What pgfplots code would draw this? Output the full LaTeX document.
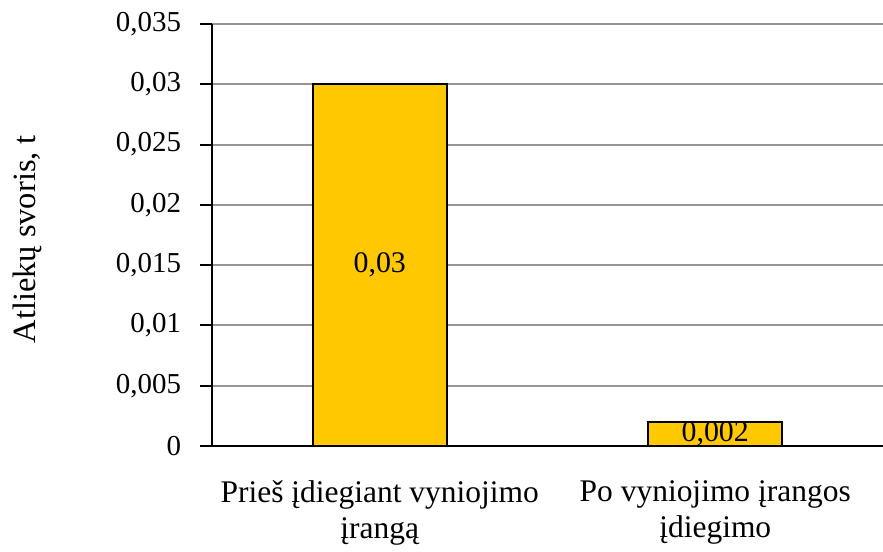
\documentclass[border=0pt]{standalone}
\usepackage{fontspec}
\setmainfont{Liberation Serif}
\usepackage{pgfplots}
\pgfplotsset{compat=1.18}
\usepackage{pgfplotstable}
\definecolor{barc}{RGB}{255,200,0}
\definecolor{gridc}{RGB}{150,150,150}
\pgfplotstableread{
x y
0 0.03
1 0.002
}\bardata
\pgfplotstableread{
x y lab
0 0.015 0,03
1 0.001 0,002
}\labdata
\begin{document}
\begin{tikzpicture}[font=\fontsize{14.5}{17.5}\selectfont]
\useasboundingbox (-106bp,-53bp) rectangle (335.5bp,223bp);
\begin{axis}[
  scale only axis,
  width=335.5bp, height=211bp,
  xmin=-0.5, xmax=1.5,
  ymin=0, ymax=0.035,
  ytick={0,0.005,0.01,0.015,0.02,0.025,0.03,0.035},
  scaled y ticks=false,
  /pgf/number format/.cd, use comma, fixed, precision=3, assume math mode=true,
  /pgfplots/.cd,
  axis x line*=bottom, axis y line*=left,
  axis line style={black, line width=1bp, -},
  tick align=outside,
  major tick length=6bp,
  tick style={black, line width=1bp},
  ymajorgrids,
  major grid style={gridc, line width=1bp},
  xtick={0,1},
  xticklabels={{Prieš įdiegiant vyniojimo\\įrangą},{Po vyniojimo įrangos\\įdiegimo}},
  x tick label style={align=center, yshift=-8bp, font=\fontsize{15.8}{18}\selectfont},
  major x tick style={draw=none},
  extra x ticks={-0.5,0.5,1.5},
  extra x tick labels={},
  extra x tick style={major x tick style={black, line width=1bp}, grid=none},
  y tick label style={xshift=-6bp},
  ylabel={Atliekų svoris, t},
  ylabel style={at={(axis description cs:-0.275,0.49)}, anchor=center, font=\fontsize{16.3}{18}\selectfont},
  clip=false,
]
\addplot[ybar, bar width=0.4, fill=barc, draw=black, line width=1bp] table[x=x,y=y] {\bardata};
\addplot[draw=none, mark=none, nodes near coords, point meta=explicit symbolic,
  nodes near coords style={anchor=center, black, font=\fontsize{15}{17.5}\selectfont}] table[x=x,y=y,meta=lab] {\labdata};
\end{axis}
\end{tikzpicture}
\end{document}
